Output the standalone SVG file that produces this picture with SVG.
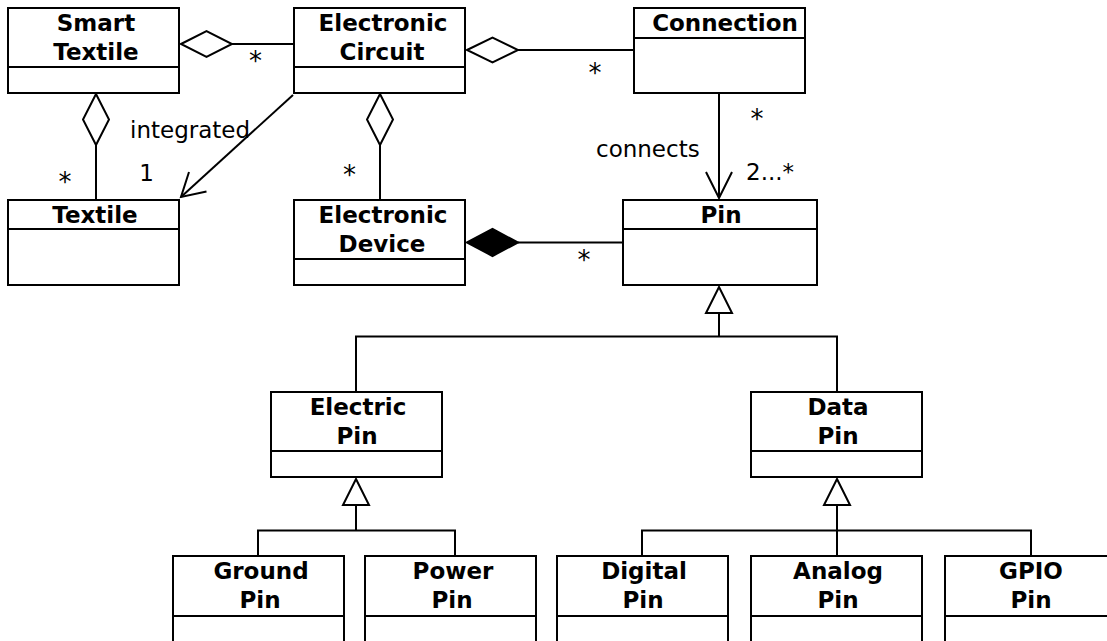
<svg xmlns="http://www.w3.org/2000/svg" width="1107" height="641" viewBox="0 0 1107 641">
<style>
.box{fill:#fff;stroke:#000;stroke-width:2}
.div{stroke:#000;stroke-width:2}
.t{font-family:"DejaVu Sans",sans-serif;font-weight:bold;font-size:23px;text-anchor:middle;fill:#000}
.l{font-family:"DejaVu Sans",sans-serif;font-size:23px;fill:#000}
.s{font-family:"DejaVu Sans",sans-serif;font-size:26px;fill:#000;text-anchor:middle}
.c{fill:none;stroke:#000;stroke-width:2}
.od{fill:#fff;stroke:#000;stroke-width:2}
.fd{fill:#000;stroke:#000;stroke-width:2}
</style>
<rect width="1107" height="641" fill="#fff"/>
<g id="connectors">
<line class="c" x1="232" y1="44" x2="294" y2="44"/>
<polygon class="od" points="181,44 206.5,31 232,44 206.5,57"/>
<line class="c" x1="518" y1="50" x2="634" y2="50"/>
<polygon class="od" points="467,50 492.5,37.5 518,50 492.5,62.5"/>
<line class="c" x1="96" y1="145" x2="96" y2="200"/>
<polygon class="od" points="96,94 109,119.5 96,145 83,119.5"/>
<line class="c" x1="380" y1="145" x2="380" y2="200"/>
<polygon class="od" points="380,94 393,119.5 380,145 367,119.5"/>
<line class="c" x1="293" y1="95" x2="181" y2="197"/>
<polyline class="c" points="189,172 181,197 206.5,191.5"/>
<line class="c" x1="719" y1="94" x2="719" y2="198"/>
<polyline class="c" points="706,172 719,198 732,172"/>
<line class="c" x1="518" y1="242.5" x2="623" y2="242.5"/>
<polygon class="fd" points="467,242.5 492.5,229 518,242.5 492.5,256"/>
<polyline class="c" points="719,313 719,336.5"/>
<polyline class="c" points="356,392 356,336.5 837,336.5 837,392"/>
<polygon class="od" points="719,287 732,313 706,313"/>
<polyline class="c" points="356,505 356,530.5"/>
<polyline class="c" points="258,556 258,530.5 455,530.5 455,556"/>
<polygon class="od" points="356,479 369,505 343,505"/>
<polyline class="c" points="837,505 837,556"/>
<polyline class="c" points="642,556 642,530.5 1031,530.5 1031,556"/>
<polygon class="od" points="837,479 850,505 824,505"/>
<text class="s" x="255.5" y="70">*</text>
<text class="s" x="595" y="82">*</text>
<text class="s" x="757" y="128">*</text>
<text class="s" x="65" y="191">*</text>
<text class="s" x="349.5" y="184">*</text>
<text class="s" x="584" y="269">*</text>
<text class="l" x="596" y="157">connects</text>
<text class="l" x="746" y="180">2...*</text>
<text class="l" x="130" y="137.5">integrated</text>
<text class="l" x="146.5" y="180.5" text-anchor="middle">1</text>
</g>
<g id="smart-textile">
<rect class="box" x="8" y="8" width="171" height="85"/>
<line class="div" x1="8" y1="67" x2="179" y2="67"/>
<text class="t" x="96" y="31">Smart</text>
<text class="t" x="96" y="60">Textile</text>
</g>
<g id="electronic-circuit">
<rect class="box" x="294" y="8" width="171" height="85"/>
<line class="div" x1="294" y1="67" x2="465" y2="67"/>
<text class="t" x="383" y="31">Electronic</text>
<text class="t" x="382" y="60">Circuit</text>
</g>
<g id="connection">
<rect class="box" x="634" y="8" width="171" height="85"/>
<line class="div" x1="634" y1="38" x2="805" y2="38"/>
<text class="t" x="725" y="31">Connection</text>
</g>
<g id="textile">
<rect class="box" x="8" y="200" width="171" height="85"/>
<line class="div" x1="8" y1="229" x2="179" y2="229"/>
<text class="t" x="95" y="223">Textile</text>
</g>
<g id="electronic-device">
<rect class="box" x="294" y="200" width="171" height="85"/>
<line class="div" x1="294" y1="259" x2="465" y2="259"/>
<text class="t" x="383" y="223">Electronic</text>
<text class="t" x="382" y="252">Device</text>
</g>
<g id="pin">
<rect class="box" x="623" y="200" width="194" height="85"/>
<line class="div" x1="623" y1="229" x2="817" y2="229"/>
<text class="t" x="721" y="223">Pin</text>
</g>
<g id="electric-pin">
<rect class="box" x="271" y="392" width="171" height="85"/>
<line class="div" x1="271" y1="451" x2="442" y2="451"/>
<text class="t" x="358" y="415">Electric</text>
<text class="t" x="357" y="444">Pin</text>
</g>
<g id="data-pin">
<rect class="box" x="751" y="392" width="171" height="85"/>
<line class="div" x1="751" y1="451" x2="922" y2="451"/>
<text class="t" x="838" y="415">Data</text>
<text class="t" x="838" y="444">Pin</text>
</g>
<g id="ground-pin">
<rect class="box" x="173" y="556" width="171" height="95"/>
<line class="div" x1="173" y1="616" x2="344" y2="616"/>
<text class="t" x="261" y="579">Ground</text>
<text class="t" x="260" y="608">Pin</text>
</g>
<g id="power-pin">
<rect class="box" x="365" y="556" width="171" height="95"/>
<line class="div" x1="365" y1="616" x2="536" y2="616"/>
<text class="t" x="453" y="579">Power</text>
<text class="t" x="452" y="608">Pin</text>
</g>
<g id="digital-pin">
<rect class="box" x="557" y="556" width="171" height="95"/>
<line class="div" x1="557" y1="616" x2="728" y2="616"/>
<text class="t" x="644" y="579">Digital</text>
<text class="t" x="643" y="608">Pin</text>
</g>
<g id="analog-pin">
<rect class="box" x="751" y="556" width="171" height="95"/>
<line class="div" x1="751" y1="616" x2="922" y2="616"/>
<text class="t" x="838" y="579">Analog</text>
<text class="t" x="838" y="608">Pin</text>
</g>
<g id="gpio-pin">
<rect class="box" x="945" y="556" width="171" height="95"/>
<line class="div" x1="945" y1="616" x2="1116" y2="616"/>
<text class="t" x="1031" y="579">GPIO</text>
<text class="t" x="1031" y="608">Pin</text>
</g>
</svg>
